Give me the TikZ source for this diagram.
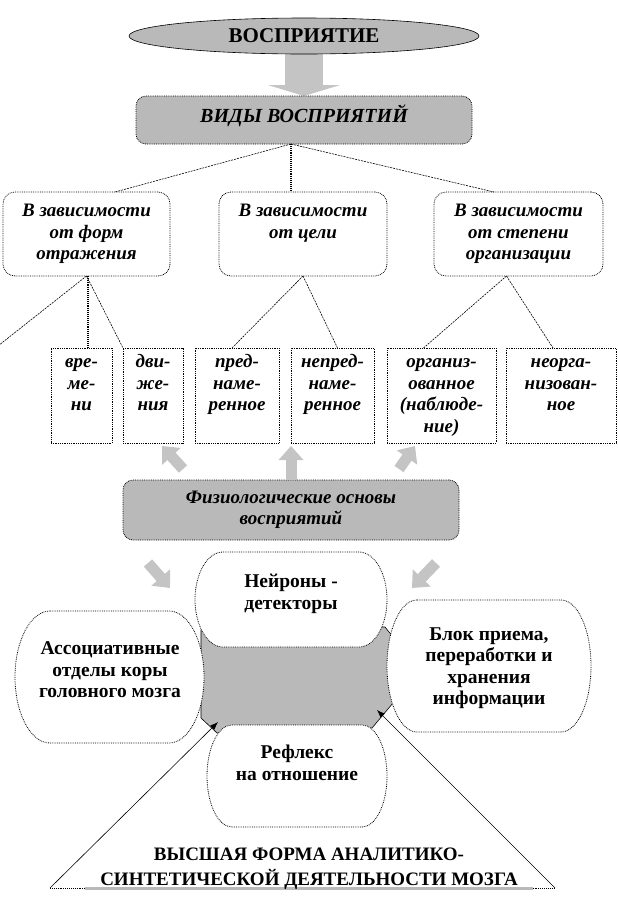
\documentclass[tikz,border=0pt]{standalone}
\usepackage{fontspec}
\setmainfont{Liberation Serif}
\usetikzlibrary{shapes.geometric,arrows.meta,calc,backgrounds}
\definecolor{boxgray}{RGB}{185,185,185}
\definecolor{arrowgray}{RGB}{196,196,196}
\newcommand\ovalpath[5]{%
  \pgfmathsetmacro\obL{#1-#3}\pgfmathsetmacro\obR{#1+#3}%
  \pgfmathsetmacro\obT{#2-#4}\pgfmathsetmacro\obB{#2+#4}%
  \pgfmathsetmacro\obLi{#1-#3+#5}\pgfmathsetmacro\obRi{#1+#3-#5}%
  \pgfmathsetmacro\obLc{#1-#3+#5-0.5523*#5}\pgfmathsetmacro\obRc{#1+#3-#5+0.5523*#5}%
  \pgfmathsetmacro\obTc{#2-0.5523*#4}\pgfmathsetmacro\obBc{#2+0.5523*#4}%
  \draw[ovalline] (\obLi,\obT) -- (\obRi,\obT)
    .. controls (\obRc,\obT) and (\obR,\obTc) .. (\obR,#2)
    .. controls (\obR,\obBc) and (\obRc,\obB) .. (\obRi,\obB)
    -- (\obLi,\obB)
    .. controls (\obLc,\obB) and (\obL,\obBc) .. (\obL,#2)
    .. controls (\obL,\obTc) and (\obLc,\obT) .. (\obLi,\obT) -- cycle;
}
\tikzset{
  every node/.style={inner sep=0pt, outer sep=0pt},
  bfont/.style={font=\fontsize{19.5}{21.5}\selectfont\bfseries},
  ifont/.style={font=\fontsize{19}{21.5}\selectfont\bfseries\itshape},
  dotbox/.style={draw, densely dotted, line width=0.8pt},
  topbox/.style={dotbox, rounded corners=12pt, fill=white, align=center, ifont,
    minimum height=84pt},
  smallbox/.style={dotbox, fill=white, align=center, ifont, minimum height=95pt},
  graybox/.style={dotbox, rounded corners=10pt, fill=boxgray, align=center, ifont},
  ovalline/.style={draw, fill=white, densely dotted, line width=0.8pt},
  lowtext/.style={align=center, bfont},
  vconn/.style={densely dotted, line width=1.1pt},
  dconn/.style={dash pattern=on 2pt off 1pt, line width=0.6pt},
  blockarrow/.style={line width=11pt, arrowgray, -{Triangle[length=14pt,width=24pt]}},
  bigarrow/.style={line width=38pt, arrowgray, -{Triangle[length=11pt,width=72pt]}},
  trline/.style={line width=0.6pt, -{Latex[length=8pt,width=6pt]}},
}
\begin{document}
\begin{tikzpicture}[x=1pt,y=-1pt]
\useasboundingbox (0,0) rectangle (618,903);

% top
\node[ellipse, draw, line width=0.6pt, fill=boxgray, minimum width=350pt, minimum height=36pt,
      font=\fontsize{21}{24}\selectfont\bfseries] (ell) at (304,36) {ВОСПРИЯТИЕ};
\node[graybox, minimum width=336pt, minimum height=48pt, font=\fontsize{20}{22}\selectfont\bfseries\itshape,
      text height=13pt, text depth=8pt] (vid) at (304,120) {ВИДЫ ВОСПРИЯТИЙ};
\begin{pgfonlayer}{background}
  \fill[white] (0,0) rectangle (618,903);
  \draw[bigarrow] (ell.south) -- (vid.north);
\end{pgfonlayer}

% criteria boxes
\node[topbox, minimum width=167pt] (lb) at (86.5,234) {\strut В зависимости\\от форм\\отражения\strut};
\node[topbox, minimum width=168pt] (mb) at (303,234) {\strut В зависимости\\от цели\\\strut};
\node[topbox, minimum width=169pt] (rb) at (518.5,234) {\strut В зависимости\\от степени\\организации\strut};

\coordinate (vj) at ($(vid.south)+(-13,0)$);
\draw[dconn] (vj) -- ($(lb.north)+(28.5,0)$);
\draw[vconn] (vj) -- (vj |- mb.north);
\draw[dconn] (vj) -- ($(rb.north)+(-24.5,0)$);

% kinds
\node[smallbox, minimum width=61pt] (b1) at (81.5,395.5) {\strut вре-\\ме-\\ни\\\strut};
\node[smallbox, minimum width=60pt] (b2) at (153,395.5) {\strut дви-\\же-\\ния\\\strut};
\node[smallbox, minimum width=84pt] (b3) at (237,395.5) {\strut пред-\\наме-\\ренное\\\strut};
\node[smallbox, minimum width=83pt] (b4) at (332.5,395.5) {\strut непред-\\наме-\\ренное\\\strut};
\node[smallbox, minimum width=109pt] (b5) at (441.5,395.5) {\strut организ-\\ованное\\(наблюде-\\ние)\strut};
\node[smallbox, minimum width=110pt] (b6) at (561,395.5) {\strut неорга-\\низован-\\ное\\\strut};

\coordinate (offl) at (-4,347.5);
\draw[dconn] (lb.south) -- (offl);
\draw[vconn] ($(lb.south)+(1.5,0)$) -- ($(lb.south |- b1.north)+(1.5,0)$);
\draw[dconn] (lb.south) -- (b2.north west);
\draw[dconn] (mb.south) -- ($(b3.north)+(-5,0)$);
\draw[dconn] (mb.south) -- ($(b4.north)+(5,0)$);
\draw[dconn] ($(rb.south)+(-12,0)$) -- ($(b5.north)+(-18,0)$);
\draw[dconn] ($(rb.south)+(-12,0)$) -- ($(b6.north)+(-8,0)$);

% physiological basis
\node[graybox, minimum width=336pt, minimum height=60pt] (fiz) at (291,510)
  {Физиологические основы\\восприятий};
\coordinate (a1t) at (183,469); \coordinate (a1h) at (162,446);
\coordinate (a3t) at (399,469); \coordinate (a3h) at (415,446);
\draw[blockarrow] (a1t) -- (a1h);
\draw[blockarrow] (fiz.north) -- ($(fiz.north |- b4.south)+(0,3)$);
\draw[blockarrow] (a3t) -- (a3h);
\coordinate (a4t) at (148,563); \coordinate (a4h) at (170,588);
\coordinate (a5t) at (436,563); \coordinate (a5h) at (412,588);
\draw[blockarrow] (a4t) -- (a4h);
\draw[blockarrow] (a5t) -- (a5h);

% central gray region
\draw[fill=boxgray, line width=0.6pt] (203,627) -- (385,627) -- (393,637) -- (393,703)
  -- (372,728) -- (217,733) -- (201,718) -- (201,630) -- cycle;

% four mechanisms
\ovalpath{291}{599.5}{96}{47.5}{28}
\ovalpath{109.5}{677}{94.5}{66}{35}
\ovalpath{489}{666}{102}{66}{30}
\ovalpath{297}{776}{90}{51}{25}
\node[lowtext] (neur) at (291,594) {Нейроны -\\детекторы};
\node[lowtext] (assoc) at (110,670) {Ассоциативные\\отделы коры\\головного мозга};
\node[lowtext] (blok) at (489,668) {Блок приема,\\переработки и\\хранения\\информации};
\node[lowtext] (refl) at (297,763) {Рефлекс\\на отношение};

% triangle
\coordinate (tl) at (50,888); \coordinate (tr) at (555,888);
\coordinate (gl) at (218,722); \coordinate (gr) at (377,710);
\draw[densely dotted, line width=0.9pt] (tl) -- (tr);
\draw[line width=3pt, boxgray] ($(tl)+(35,0)$) -- ($(tr)+(-22,0)$);
\draw[trline] (tl) -- (gl);
\draw[trline] (tr) -- (gr);
\node[align=center, font=\fontsize{19}{25}\selectfont\bfseries] (hf) at (309,869)
  {ВЫСШАЯ ФОРМА АНАЛИТИКО-\\СИНТЕТИЧЕСКОЙ ДЕЯТЕЛЬНОСТИ МОЗГА};
\end{tikzpicture}
\end{document}
